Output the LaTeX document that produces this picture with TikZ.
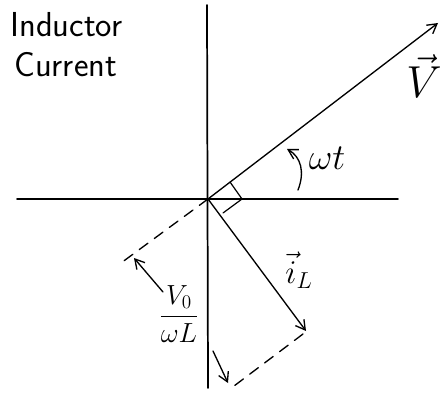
\documentclass[tikz,border=0pt]{standalone}
\usepackage{amsmath}
\usepackage{graphicx}
\usepackage{fontspec}
\usetikzlibrary{arrows.meta}
\begin{document}
\begin{tikzpicture}[x=0.75pt,y=-0.75pt, line cap=round,
  ax/.style={line width=1.3pt},
  vec/.style={line width=1pt,-{Straight Barb[length=7pt,width=8pt]}},
  dsh/.style={line width=1pt,dash pattern=on 8pt off 6pt},
  lbl/.style={inner sep=0pt, font=\fontsize{24}{28}\selectfont}]
\useasboundingbox (0,0) rectangle (442,395);
\fill[white] (0,0) rectangle (442,395);
% coordinates
\coordinate (O) at (208,199);
\coordinate (axT) at (207,5);
\coordinate (axB) at (208,388);
\coordinate (axL) at (17,199);
\coordinate (axR) at (398,199);
\coordinate (Vt) at (438,23);
\coordinate (It) at (306,331);
\coordinate (A) at (121,263);
\coordinate (B1) at (303,334);
\coordinate (B2) at (234,386);
\coordinate (r1) at (230,182);
\coordinate (r2) at (242,199);
\coordinate (r3) at (223,213);
\coordinate (p1s) at (163,292);
\coordinate (p1e) at (134,258);
\coordinate (p2s) at (213,351);
\coordinate (p2e) at (228,383);
\coordinate (cs) at (298,190);
\coordinate (ce) at (287,149);
% axes
\draw[ax] (axT) -- (axB);
\draw[ax] (axL) -- (axR);
% vectors
\draw[vec] (O) -- (Vt);
\draw[vec] (O) -- (It);
% right angle mark
\draw[line width=0.9pt] (r1) -- (r2) -- (r3);
% dashed lines
\draw[dsh] (O) -- (A);
\draw[dsh] (B1) -- (B2);
% dimension arrows
\draw[vec] (p1s) -- (p1e);
\draw[vec] (p2s) -- (p2e);
% angle arrow
\draw[vec] (cs) .. controls (305,172) and (301,157) .. (ce);
% labels
\node[lbl, anchor=base west, font=\fontsize{26}{30}\sffamily] (ind) at (10,37) {Inductor};
\node[lbl, anchor=base west, font=\fontsize{26}{30}\sffamily] (cur) at (14,77) {Current};
\node[lbl] (vl) at (424,76) {\scalebox{1.35}{$\vec{V}$}};
\node[lbl] (wt) at (327,158) {\scalebox{1.1}{$\omega t$}};
\node[lbl] (il) at (299,270) {$\vec{i}_L$};
\node[lbl, font=\fontsize{21}{25}\selectfont] (frac) at (179,314) {$\dfrac{V_0}{\omega L}$};
\end{tikzpicture}
\end{document}
